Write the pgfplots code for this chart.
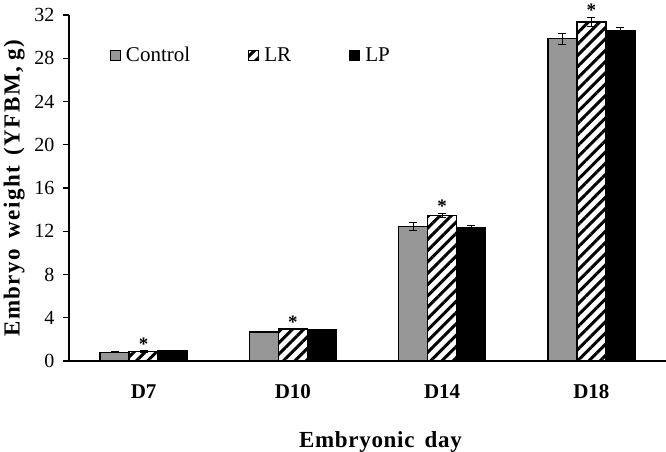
\documentclass[border=0pt]{standalone}
\usepackage{fontspec}
\setmainfont{Liberation Serif}
\usepackage{pgfplots}
\pgfplotsset{compat=1.18}
\usetikzlibrary{patterns.meta}
\definecolor{ctrlgray}{RGB}{150,150,150}

% day index, mean, error
\pgfplotstableread{
x y e
0 0.80 0.05
1 2.70 0.05
2 12.45 0.34
3 29.80 0.50
}\control
\pgfplotstableread{
x y e
0 0.88 0.05
1 2.95 0.05
2 13.45 0.22
3 31.35 0.43
}\lr
\pgfplotstableread{
x y e
0 0.95 0.04
1 2.85 0.05
2 12.30 0.20
3 30.55 0.30
}\lp

\begin{document}
\begin{tikzpicture}
\begin{axis}[
    scale only axis,
    width=597pt, height=346pt,
    xmin=-0.5, xmax=3.5,
    ymin=0, ymax=32,
    axis x line*=bottom, axis y line*=left,
    axis line style={line width=1.6pt},
    ybar=0pt, bar width=29pt,
    xtick={0,1,2,3},
    xticklabels={D7,D10,D14,D18},
    x tick label style={font=\fontsize{21}{23}\selectfont\bfseries, yshift=-14pt},
    major x tick style={draw=none},
    extra x ticks={0.5,1.5,2.5,3.5},
    extra x tick labels={},
    extra x tick style={major tick length=6pt, tick style={line width=1.4pt, black}},
    ytick={0,4,...,32},
    y tick label style={font=\fontsize{20}{22}\selectfont, xshift=-5pt},
    /pgf/number format/assume math mode=true,
    tick align=outside,
    major tick length=6pt,
    tick style={line width=1.4pt, black},
    xlabel={\addfontfeature{LetterSpace=3}Embryonic\ \,day},
    ylabel={\addfontfeature{LetterSpace=6}Embryo\ \,weight\ \,(YFBM,\ g)},
    label style={font=\fontsize{23}{25}\selectfont\bfseries},
    xlabel style={yshift=-14pt, xshift=13pt},
    ylabel style={yshift=3pt},
    clip=false,
    legend columns=3,
    legend style={at={(axis description cs:0.068,0.884)}, anchor=west, draw=none,
        font=\fontsize{21}{23}\selectfont, inner sep=0pt,
        /tikz/every odd column/.append style={column sep=3pt},
        /tikz/every even column/.append style={column sep=56pt}},
    legend cell align=left,
    legend image code/.code={\draw[#1, line width=1.2pt] (0pt,-5pt) rectangle (10pt,5pt);},
    error bars/error bar style={line width=1pt, black},
    error bars/error mark options={rotate=90, mark size=4pt, line width=1pt, black},
]
\addplot[draw=black, line width=1.4pt, fill=ctrlgray,
    error bars/.cd, y dir=both, y explicit]
    table[x=x, y=y, y error=e] {\control};
\addlegendentry{Control}
\addplot[draw=black, line width=1.4pt,
    pattern={Lines[angle=45, distance=8pt, line width=3pt]}, pattern color=black,
    error bars/.cd, y dir=both, y explicit]
    table[x=x, y=y, y error=e] {\lr};
\addlegendentry{LR}
\addplot[draw=black, line width=1.4pt, fill=black,
    error bars/.cd, y dir=both, y explicit]
    table[x=x, y=y, y error=e] {\lp};
\addlegendentry{LP}
\node[anchor=base, font=\fontsize{19}{21}\selectfont\bfseries] at (axis cs:0,0.95) {*};
\node[anchor=base, font=\fontsize{19}{21}\selectfont\bfseries] at (axis cs:1,3.05) {*};
\node[anchor=base, font=\fontsize{19}{21}\selectfont\bfseries] at (axis cs:2,13.7) {*};
\node[anchor=base, font=\fontsize{19}{21}\selectfont\bfseries] at (axis cs:3,31.85) {*};
\end{axis}
\pgfresetboundingbox
\path (-69pt,-91pt) rectangle (597pt,361pt);
\end{tikzpicture}
\end{document}
